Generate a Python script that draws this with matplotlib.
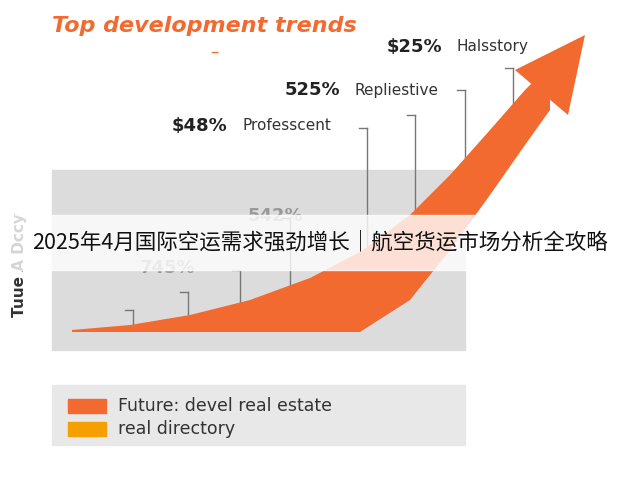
import matplotlib
matplotlib.use("Agg")
import matplotlib.pyplot as plt
from matplotlib.patches import Rectangle, Polygon
import numpy as np

plt.rcParams['font.family'] = ['DejaVu Sans', 'Noto Sans CJK SC']

# data (pixel-like units, y downward)
labels = ["$25%", "525%", "$48%", "542%", "745%"]
names = ["Halsstory", "Repliestive", "Professcent", "", ""]
label_x = [387, 285, 172, 248, 140]
label_y = [47, 90, 126, 216, 268]
lead_x = [513, 465, 415, 367, 290, 240, 188, 133]
lead_top = [68, 90, 115, 128, 218, 270, 292, 310]
curve_x = [72, 130, 190, 250, 310, 360, 410, 450, 490, 525, 550]
curve_upper = [330, 325, 315, 300, 278, 252, 215, 175, 130, 90, 65]
curve_lower = [332, 332, 332, 332, 332, 332, 300, 250, 195, 145, 110]
legend_labels = ["Future: devel real estate", "real directory"]
legend_colors = ["#f26a30", "#f5a000"]

fig = plt.figure(figsize=(6.4, 4.8), dpi=100)
ax = fig.add_axes([0, 0, 1, 1])
ax.set_xlim(0, 640); ax.set_ylim(480, 0); ax.axis('off')

ax.add_patch(Rectangle((52, 170), 413, 180, color='#dcdcdc', zorder=0))
ax.add_patch(Rectangle((52, 385), 413, 60, color='#e8e8e8', zorder=0))

ycurve = np.interp(lead_x, curve_x, curve_upper)
for x, t, yc in zip(lead_x, lead_top, ycurve):
    ax.plot([x, x], [t, yc], color='#777777', lw=1, zorder=1)
    ax.plot([x - 8, x], [t, t], color='#777777', lw=1, zorder=1)

poly = list(zip(curve_x, curve_upper)) + list(zip(curve_x[::-1], curve_lower[::-1]))
ax.add_patch(Polygon(poly, closed=True, color='#f26a30', zorder=2, lw=0))
ax.add_patch(Polygon([(515, 70), (585, 35), (568, 115)], closed=True, color='#f26a30', zorder=2, lw=0))

ax.text(52, 26, "Top development trends", color='#f26a30', fontsize=16,
        fontweight='bold', style='italic', va='center')
ax.text(210, 52, "–", color='#f26a30', fontsize=12, va='center')
for l, n, x, y in zip(labels, names, label_x, label_y):
    col = '#222222' if n else '#999999'
    ax.text(x, y, l, fontsize=13, fontweight='bold', va='center', color=col)
    if n:
        ax.text(x + 70, y, n, fontsize=11, va='center', color='#333333')

ax.text(20, 265, "Tuue A Dccy", rotation=90, fontsize=11, fontweight='bold',
        ha='center', va='center', color='#333333')

ax.add_patch(Rectangle((0, 215), 640, 55, color='white', alpha=0.8, zorder=4))
ax.text(320, 242, "2025年4月国际空运需求强劲增长｜航空货运市场分析全攻略",
        fontsize=15.5, ha='center', va='center', color='#111111', zorder=5,
        family=['Noto Sans CJK SC', 'DejaVu Sans'])

for i, (l, c) in enumerate(zip(legend_labels, legend_colors)):
    y = 406 + i * 23
    ax.add_patch(Rectangle((68, y - 7), 38, 14, color=c))
    ax.text(118, y, l, fontsize=12.5, va='center', color='#333333')

fig.savefig("out.png", dpi=100)
